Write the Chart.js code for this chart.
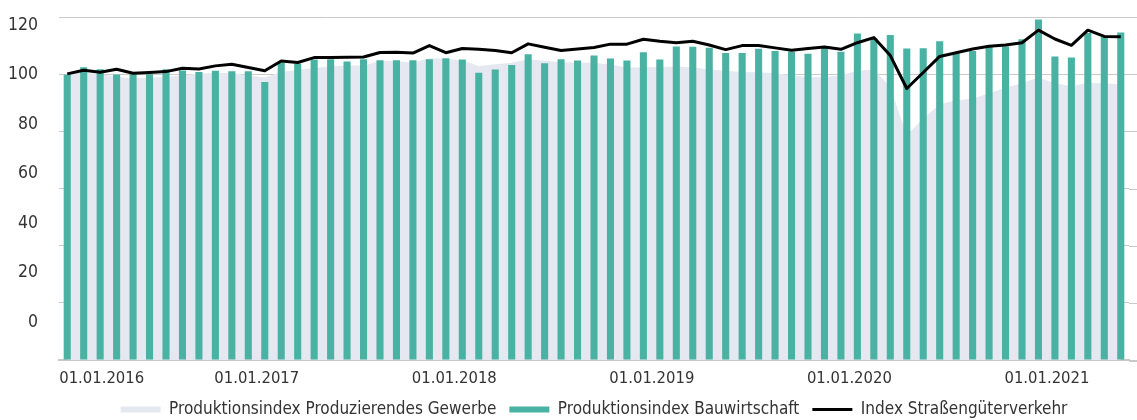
<!DOCTYPE html>
<html>
<head>
<meta charset="utf-8">
<script src="https://cdn.jsdelivr.net/npm/chart.js@4/dist/chart.umd.min.js"></script>
<style>
  html, body { margin: 0; padding: 0; background: #fff; }
  #wrap { width: 1137px; height: 420px; }
</style>
</head>
<body>
<div id="wrap"><canvas id="chart"></canvas></div>
<script>
// months Jan 2016 - May 2021
var months = [
  '01.01.2016','01.02.2016','01.03.2016','01.04.2016','01.05.2016','01.06.2016','01.07.2016','01.08.2016','01.09.2016','01.10.2016','01.11.2016','01.12.2016',
  '01.01.2017','01.02.2017','01.03.2017','01.04.2017','01.05.2017','01.06.2017','01.07.2017','01.08.2017','01.09.2017','01.10.2017','01.11.2017','01.12.2017',
  '01.01.2018','01.02.2018','01.03.2018','01.04.2018','01.05.2018','01.06.2018','01.07.2018','01.08.2018','01.09.2018','01.10.2018','01.11.2018','01.12.2018',
  '01.01.2019','01.02.2019','01.03.2019','01.04.2019','01.05.2019','01.06.2019','01.07.2019','01.08.2019','01.09.2019','01.10.2019','01.11.2019','01.12.2019',
  '01.01.2020','01.02.2020','01.03.2020','01.04.2020','01.05.2020','01.06.2020','01.07.2020','01.08.2020','01.09.2020','01.10.2020','01.11.2020','01.12.2020',
  '01.01.2021','01.02.2021','01.03.2021','01.04.2021','01.05.2021'
];

var gewerbe = [
  100.2,100.6,100.0,99.2,98.5,98.8,99.0,99.6,100.2,100.4,100.5,99.5,
  98.8,100.8,101.5,102.2,102.8,103.0,103.0,104.6,104.6,104.0,105.6,105.4,
  104.8,102.9,103.5,104.0,105.2,104.7,104.2,104.1,104.0,103.4,102.3,102.4,
  102.5,102.7,102.4,101.6,101.2,100.8,100.7,100.3,99.6,98.9,99.0,99.6,
  101.2,101.6,95.5,78.5,84.5,89.5,90.9,91.4,93.3,95.3,96.8,98.8,
  96.8,95.8,97.0,96.8,96.5
];

var bau = [
  99.8,102.4,101.7,99.9,100.0,100.0,101.7,101.3,100.8,101.2,101.0,101.0,
  97.3,103.9,103.7,105.1,105.2,104.4,105.2,104.9,104.9,104.9,105.2,105.6,
  105.1,100.5,101.6,103.2,107.0,103.8,105.2,104.8,106.5,105.5,104.8,107.7,
  105.1,109.7,109.6,109.2,107.4,107.4,108.9,108.1,107.8,107.1,109.3,107.8,
  114.2,112.6,113.7,109.0,109.1,111.5,107.3,108.1,109.5,109.7,112.2,119.1,
  106.2,105.8,114.4,113.0,114.6
];

var strasse = [
  100.1,101.4,100.7,101.7,100.3,100.6,100.9,102.1,101.8,102.9,103.5,102.3,
  101.2,104.6,104.1,105.8,105.8,105.9,106.0,107.6,107.7,107.4,110.0,107.5,
  109.0,108.7,108.3,107.5,110.6,109.4,108.3,108.8,109.3,110.5,110.5,112.2,
  111.5,111.0,111.5,110.2,108.6,110.0,110.0,109.2,108.4,109.0,109.5,108.7,
  111.0,112.8,106.5,95.0,100.6,106.2,107.5,108.8,109.8,110.2,111.0,115.4,
  112.3,110.1,115.4,113.2,113.1
];

var yTicks = [0, 20, 40, 60, 80, 100, 120];

var FONT = "'Liberation Sans Narrow', 'DejaVu Sans Condensed', sans-serif";

// grid lines run on to the right edge of the canvas
var gridToEdge = {
  id: 'gridToEdge',
  beforeDatasetsDraw: function(chart) {
    var c = chart.ctx, area = chart.chartArea, ys = chart.scales.y;
    c.save();
    c.strokeStyle = '#cacaca';
    c.lineWidth = 1;
    ys.ticks.forEach(function(t) {
      var py = Math.round(ys.getPixelForValue(t.value)) + 0.5;
      if (t.value === 0) return;
      c.beginPath(); c.moveTo(area.right, py); c.lineTo(chart.width, py); c.stroke();
    });
    c.strokeStyle = '#c8c8c8';
    c.lineWidth = 2;
    c.beginPath(); c.moveTo(area.right, area.bottom + 1); c.lineTo(chart.width, area.bottom + 1); c.stroke();
    c.restore();
  }
};

var ctx = document.getElementById('chart').getContext('2d');
var myChart = new Chart(ctx, {
  type: 'bar',
  data: {
    labels: months,
    datasets: [
      {
        type: 'line',
        label: 'Produktionsindex Produzierendes Gewerbe',
        data: gewerbe,
        fill: 'origin',
        backgroundColor: '#e5e8f0',
        borderColor: '#e5e8f0',
        borderWidth: 0,
        pointRadius: 0,
        pointStyle: 'rect',
        tension: 0,
        order: 3
      },
      {
        type: 'bar',
        label: 'Produktionsindex Bauwirtschaft',
        data: bau,
        backgroundColor: '#4ab2a2',
        borderWidth: 0,
        categoryPercentage: 1,
        barPercentage: 0.43,
        pointStyle: 'rect',
        order: 2
      },
      {
        type: 'line',
        label: 'Index Straßengüterverkehr',
        data: strasse,
        fill: false,
        borderColor: '#000',
        backgroundColor: '#000',
        borderWidth: 3,
        pointRadius: 0,
        pointStyle: 'line',
        tension: 0,
        borderJoinStyle: 'round',
        order: 1
      }
    ]
  },
  plugins: [gridToEdge],
  options: {
    responsive: true,
    maintainAspectRatio: false,
    animation: false,
    layout: { padding: { top: 17, right: 8, left: 0, bottom: -8 } },
    plugins: {
      tooltip: { enabled: false },
      legend: {
        position: 'bottom',
        fullSize: false,
        labels: {
          usePointStyle: true,
          pointStyleWidth: 40,
          boxHeight: 6,
          padding: 13,
          color: '#333',
          font: { family: FONT, size: 17 },
          sort: function(a, b) { return a.datasetIndex - b.datasetIndex; }
        }
      }
    },
    scales: {
      x: {
        offset: true,
        grid: { display: false, drawTicks: false },
        border: { display: true, color: '#c8c8c8', width: 2 },
        afterFit: function(s) { s.height = 28; },
        ticks: {
          autoSkip: false,
          maxRotation: 0,
          align: 'inner',
          labelOffset: -8,
          padding: 9,
          color: '#333',
          font: { family: FONT, size: 16.5 },
          callback: function(v, i) {
            var m = months[i];
            return m.indexOf('01.01.') === 0 ? m : '';
          }
        }
      },
      y: {
        position: 'left',
        min: 0,
        max: 120,
        ticks: { display: false, stepSize: 20 },
        grid: { color: '#cacaca', drawTicks: false, lineWidth: 1 },
        border: { display: false },
        afterFit: function(s) { s.width = 0; s.paddingTop = 0; s.paddingBottom = 0; }
      },
      yLabels: {
        position: 'left',
        min: -15.35,
        max: 123.35,
        grid: { display: false, drawTicks: false },
        border: { display: false },
        afterBuildTicks: function(s) {
          s.ticks = yTicks.map(function(v) { return { value: v }; });
        },
        afterFit: function(s) { s.width = 59; s.paddingTop = 0; s.paddingBottom = 0; },
        ticks: {
          padding: 21,
          color: '#333',
          font: { family: FONT, size: 17.5 }
        }
      }
    }
  }
});
</script>
</body>
</html>
